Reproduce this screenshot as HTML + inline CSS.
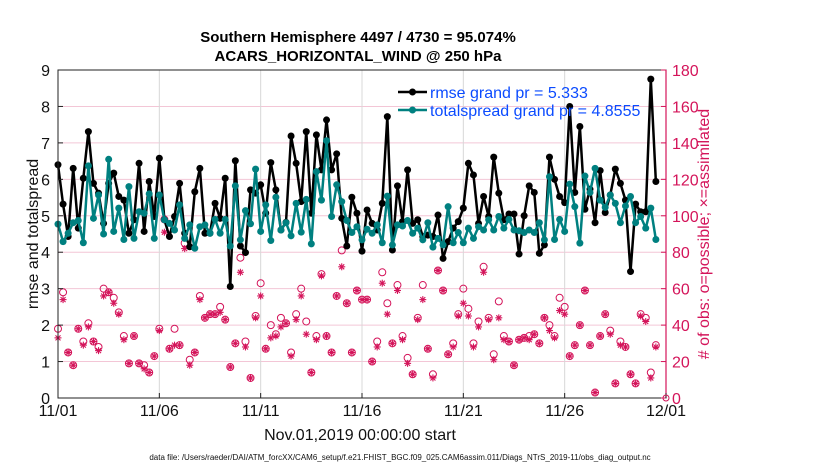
<!DOCTYPE html>
<html><head><meta charset="utf-8"><style>
body{margin:0;background:#fff;}
svg text{font-family:"Liberation Sans",sans-serif;}
</style></head><body>
<svg id="chart" width="830" height="470" viewBox="0 0 830 470" xmlns="http://www.w3.org/2000/svg">
<rect width="830" height="470" fill="#fff"/>
<g id="grid"></g>
<g id="marks"></g>
<g id="axes"></g>
</svg>
<script>
const xTickLabels = ["11/01","11/06","11/11","11/16","11/21","11/26","12/01"];
const leftTicks = [0,1,2,3,4,5,6,7,8,9];
const rightTicks = [0,20,40,60,80,100,120,140,160,180];
const rmse = [6.40,5.32,4.43,6.30,4.66,6.03,7.31,5.89,5.62,4.79,5.89,6.17,5.53,5.43,4.52,4.89,6.44,4.57,5.94,4.98,6.58,4.89,4.43,4.98,5.89,4.52,4.15,5.66,6.30,4.52,4.52,
5.34,4.93,6.03,3.06,6.51,4.17,3.99,5.71,5.62,5.85,5.07,6.46,5.71,4.61,4.82,7.19,6.44,5.39,7.31,5.07,7.22,6.26,7.63,6.26,6.70,4.93,4.17,5.51,5.07,4.03,
5.16,4.79,4.61,5.34,7.72,4.06,5.82,4.84,6.26,4.79,4.89,4.43,4.47,4.43,5.02,3.83,4.29,4.66,4.84,5.21,6.44,6.12,4.79,5.53,4.98,6.61,5.62,4.89,5.05,5.05,
3.95,5.00,5.82,5.64,3.97,4.20,6.61,6.00,5.53,5.36,8.00,5.64,7.45,5.18,5.73,4.81,6.24,5.09,5.57,6.28,5.89,5.43,3.47,5.32,5.11,5.11,8.75,5.94];
const spread = [4.77,4.29,4.52,4.81,4.87,4.26,6.37,4.93,5.57,4.50,6.55,4.57,5.21,4.35,5.80,4.38,5.11,5.07,5.60,4.38,5.57,4.89,4.79,4.61,5.30,4.38,4.75,4.11,4.70,4.75,4.52,
4.90,4.52,4.90,4.17,5.82,4.34,5.14,4.78,6.28,4.57,5.30,4.32,5.51,4.61,4.81,4.45,5.34,4.55,5.45,4.23,6.21,5.43,7.06,4.98,5.85,5.39,4.87,4.54,4.70,4.34,
4.63,4.52,4.75,4.26,5.54,4.20,4.75,4.72,4.87,4.52,4.66,4.34,4.81,4.14,4.38,4.20,5.25,4.26,4.54,4.26,4.66,4.38,4.70,4.61,4.89,4.61,4.98,4.66,4.90,4.61,
4.59,4.54,4.61,4.54,4.81,4.34,6.07,4.35,4.90,4.57,5.87,5.25,4.25,6.09,5.64,6.30,5.43,5.23,5.57,5.34,4.81,5.27,5.53,4.81,4.98,4.66,5.21,4.35];
const obsPossible = [38,58,25,18,38,31,41,31,28,60,58,55,47,34,19,34,19,18,14,23,38,98,27,38,29,85,21,25,56,44,46,
46,50,43,17,30,77,31,11,45,63,27,40,35,44,41,25,46,60,42,14,34,68,34,25,56,81,52,25,59,54,
54,20,31,69,52,30,62,34,22,13,44,62,27,13,70,59,24,30,46,60,49,30,42,72,44,24,53,34,31,18,
32,33,34,35,30,44,40,34,55,50,23,29,40,59,29,3,34,46,37,8,31,28,13,8,46,44,14,29];
const obsAssim = [33,54,25,18,38,29,39,31,26,56,58,52,46,32,19,34,19,16,14,23,37,91,27,29,29,82,18,25,54,44,46,
46,47,43,17,30,69,28,11,44,56,27,33,34,39,41,23,43,56,35,14,32,67,34,25,56,72,52,25,59,54,
54,20,28,63,46,30,59,32,19,13,43,54,27,11,70,59,24,28,45,52,45,28,39,69,43,21,44,32,31,18,
32,33,32,35,30,44,37,33,48,46,23,29,40,59,29,3,34,46,35,8,29,28,13,8,45,42,11,28];

const X0=58,X1=666,Y0=398,Y1=70;
const NS="http://www.w3.org/2000/svg";
const xOfIndex=i=>X0+(i*0.25)/30*(X1-X0);
const xOfTick=k=>X0+k*5/30*(X1-X0);
const yL=v=>Y0-v/9*(Y0-Y1);
const yR=v=>Y0-v/180*(Y0-Y1);
const red="#d4145a", teal="#008080";
function mk(tag,attrs,parent,text){const e=document.createElementNS(NS,tag);for(const k in attrs)e.setAttribute(k,attrs[k]);if(text!==undefined)e.textContent=text;parent.appendChild(e);return e;}
const grid=document.getElementById('grid'),marks=document.getElementById('marks'),axes=document.getElementById('axes');

leftTicks.forEach(v=>{if(v>0&&v<9){const l=mk('line',{x1:X0,x2:X1,y1:yL(v),y2:yL(v),stroke:'#f3c6d6','stroke-width':1},grid);

}});
xTickLabels.forEach((t,k)=>{if(k>0&&k<6){const l=mk('line',{x1:xOfTick(k),x2:xOfTick(k),y1:Y0,y2:Y1,stroke:'#d8d8d8','stroke-width':1},grid);

}});

obsPossible.forEach((v,i)=>{const c=mk('circle',{cx:xOfIndex(i),cy:yR(v),r:3.5,fill:'none',stroke:red,'stroke-width':1},marks);

});
obsAssim.forEach((v,i)=>{const x=xOfIndex(i),y=yR(v),s=3.5;
const g=mk('g',{stroke:red,'stroke-width':1.1},marks);


mk('line',{x1:x-s,x2:x+s,y1:y,y2:y},g);mk('line',{x1:x,x2:x,y1:y-s,y2:y+s},g);
mk('line',{x1:x-2.5,x2:x+2.5,y1:y-2.5,y2:y+2.5},g);mk('line',{x1:x-2.5,x2:x+2.5,y1:y+2.5,y2:y-2.5},g);});

function series(vals,color,name){
 const p=mk('polyline',{points:vals.map((v,i)=>xOfIndex(i)+','+yL(v)).join(' '),fill:'none',stroke:color,'stroke-width':2.5,'stroke-linejoin':'round'},marks);
 
 
 vals.forEach((v,i)=>{const c=mk('circle',{cx:xOfIndex(i),cy:yL(v),r:3.5,fill:color},marks);
 
 });
}
series(rmse,'#000','rmse');
series(spread,teal,'totalspread');

const box=mk('rect',{x:X0,y:Y1,width:X1-X0,height:Y0-Y1,fill:'none',stroke:'#222','stroke-width':1},axes);


mk('line',{x1:X1,x2:X1,y1:Y1,y2:Y0,stroke:red,'stroke-width':1.2},axes);
leftTicks.forEach(v=>{mk('line',{x1:X0,x2:X0+5,y1:yL(v),y2:yL(v),stroke:'#222'},axes);
const t=mk('text',{x:X0-8,y:yL(v)+6,'text-anchor':'end','font-size':16,fill:'#111'},axes,String(v));

});
rightTicks.forEach(v=>{mk('line',{x1:X1-5,x2:X1,y1:yR(v),y2:yR(v),stroke:red},axes);
const t=mk('text',{x:X1+6,y:yR(v)+6,'font-size':16,fill:red},axes,String(v));

});
xTickLabels.forEach((lab,k)=>{mk('line',{x1:xOfTick(k),x2:xOfTick(k),y1:Y0,y2:Y0-5,stroke:'#222'},axes);
const t=mk('text',{x:xOfTick(k),y:416,'text-anchor':'middle','font-size':16,fill:'#111'},axes,lab);

});
mk('circle',{cx:X1,cy:Y0,r:3,fill:'none',stroke:red},axes);

const lg=mk('g',{},axes);


[['rmse grand pr = 5.333','#000',92],['totalspread grand pr = 4.8555',teal,110]].forEach(([txt,col,y])=>{
 const e=mk('g',{},lg);
 
 
 mk('line',{x1:398,x2:427,y1:y,y2:y,stroke:col,'stroke-width':2.5},e);
 mk('circle',{cx:412.5,cy:y,r:3.5,fill:col},e);
 mk('text',{x:430,y:y+6,'font-size':16,fill:'#0b4bff'},e,txt);
});
</script>
<svg style="position:absolute;left:0;top:0" width="830" height="470" xmlns="http://www.w3.org/2000/svg">
<text x="358" y="42" text-anchor="middle" font-size="15" font-weight="bold" fill="#000" font-family="Liberation Sans, sans-serif">Southern Hemisphere 4497 / 4730 = 95.074%</text>
<text x="358" y="61" text-anchor="middle" font-size="15" font-weight="bold" fill="#000" font-family="Liberation Sans, sans-serif">ACARS_HORIZONTAL_WIND @ 250 hPa</text>
<text transform="translate(38,234) rotate(-90)" text-anchor="middle" font-size="16" fill="#111" font-family="Liberation Sans, sans-serif">rmse and totalspread</text>
<text transform="translate(709,234) rotate(-90)" text-anchor="middle" font-size="16" fill="#d4145a" font-family="Liberation Sans, sans-serif"># of obs: o=possible; ×=assimilated</text>
<text x="360" y="440" text-anchor="middle" font-size="16" fill="#111" font-family="Liberation Sans, sans-serif">Nov.01,2019 00:00:00 start</text>
<text x="400" y="460" text-anchor="middle" font-size="8" fill="#111" font-family="Liberation Sans, sans-serif">data file: /Users/raeder/DAI/ATM_forcXX/CAM6_setup/f.e21.FHIST_BGC.f09_025.CAM6assim.011/Diags_NTrS_2019-11/obs_diag_output.nc</text>
</svg>
</body></html>
